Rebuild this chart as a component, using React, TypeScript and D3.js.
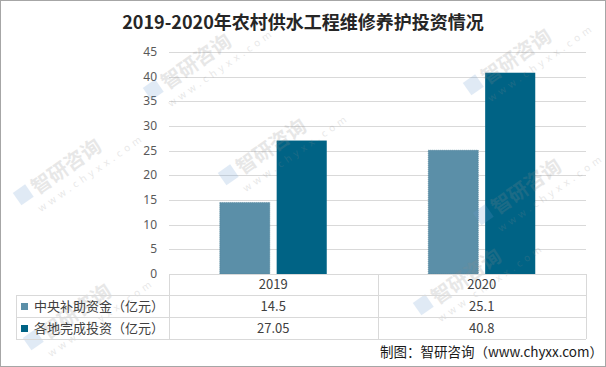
import React, { useEffect, useRef } from 'react';
import * as d3 from 'd3';

const title = '2019-2020年农村供水工程维修养护投资情况';
const years = ['2019', '2020'];
const seriesNames = ['中央补助资金（亿元）', '各地完成投资（亿元）'];
const centralFunds = [14.5, 25.1];
const localInvest = [27.05, 40.8];
const tableLabels = [['14.5', '25.1'], ['27.05', '40.8']];
const yTicks = [0, 5, 10, 15, 20, 25, 30, 35, 40, 45];
const colors = ['#5b8fa8', '#006385'];
const source = '制图：智研咨询（www.chyxx.com）';

// watermark spots (centre of each stamp)
const marks = [[200, 65], [275, 150], [520, 60], [70, 170], [470, 280], [80, 315], [530, 190]];

export default function App() {
  const ref = useRef<SVGSVGElement>(null);

  useEffect(() => {
    document.body.style.margin = '0';
    const W = 606, H = 367;
    const left = 169, right = 586, top = 52, bottom = 274;
    const svg = d3.select(ref.current);
    svg.selectAll('*').remove();

    svg.append('rect').attr('x', 0.5).attr('y', 0.5).attr('width', W - 1).attr('height', H - 1)
      .attr('fill', '#fff').attr('stroke', '#a6a6a6');

    const y = d3.scaleLinear().domain([0, 45]).range([bottom, top]);
    const x0 = d3.scaleBand().domain(years).range([left, right]);
    const x1 = d3.scaleBand().domain(['0', '1']).range([0, 107]).paddingInner(0.12);

    svg.append('text').attr('x', 303).attr('y', 29).attr('text-anchor', 'middle')
      .attr('font-family', 'Noto Sans CJK SC, sans-serif').attr('font-weight', 'bold')
      .attr('font-size', 18).attr('fill', '#262626').text(title);

    // grid
    svg.append('g').selectAll('line').data(yTicks.filter(d => d > 0)).enter().append('line')
      .attr('x1', left).attr('x2', right)
      .attr('y1', d => Math.round(y(d)) + 0.5).attr('y2', d => Math.round(y(d)) + 0.5)
      .attr('stroke', '#d9d9d9');

    svg.append('g').selectAll('text').data(yTicks).enter().append('text')
      .attr('x', 157).attr('y', d => y(d) + 4).attr('text-anchor', 'end')
      .attr('font-family', 'Noto Sans, sans-serif').attr('font-size', 12).attr('fill', '#595959')
      .text(d => d);

    // bars
    const series = [centralFunds, localInvest];
    series.forEach((vals, si) => {
      svg.append('g').selectAll('rect').data(vals).enter().append('rect')
        .attr('x', (d, i) => x0(years[i])! + (x0.bandwidth() - 107) / 2 + x1(String(si))!)
        .attr('width', x1.bandwidth())
        .attr('y', d => y(d)).attr('height', d => bottom - y(d))
        .attr('fill', colors[si])
        .attr('stroke', si === 0 ? '#4a7d96' : 'none').attr('stroke-dasharray', '1,1').attr('stroke-width', 0.6);
    });

    // watermarks
    const wm = svg.append('g').attr('pointer-events', 'none');
    marks.forEach(([cx, cy]) => {
      const g = wm.append('g').attr('transform', `translate(${cx},${cy}) rotate(-35)`).attr('opacity', 0.2);
      g.append('rect').attr('x', -60).attr('y', -14).attr('width', 15).attr('height', 15).attr('fill', '#6a9bd1');
      g.append('text').attr('x', -41).attr('y', 2).attr('font-family', 'Noto Sans CJK SC, sans-serif')
        .attr('font-weight', 'bold').attr('font-size', 20).attr('fill', '#8c8c8c').text('智研咨询');
      g.append('text').attr('x', -48).attr('y', 18).attr('font-family', 'Noto Sans, sans-serif')
        .attr('font-size', 10).attr('letter-spacing', 4).attr('fill', '#8c8c8c').text('www.chyxx.com');
    });

    // data table
    const rows = [275, 295, 317, 339];
    const tbl = svg.append('g').attr('stroke', '#d9d9d9').attr('fill', 'none');
    tbl.append('line').attr('x1', left).attr('x2', right).attr('y1', bottom + 0.5).attr('y2', bottom + 0.5);
    rows.slice(1).forEach(r => {
      tbl.append('line').attr('x1', 16).attr('x2', right).attr('y1', r + 0.5).attr('y2', r + 0.5);
    });
    [left, x0('2020')!, right].forEach(xx => {
      tbl.append('line').attr('x1', Math.round(xx) + 0.5).attr('x2', Math.round(xx) + 0.5).attr('y1', bottom).attr('y2', 339);
    });
    tbl.append('line').attr('x1', 16.5).attr('x2', 16.5).attr('y1', 295).attr('y2', 339);

    const txt = svg.append('g').attr('font-family', 'Noto Sans CJK SC, sans-serif').attr('font-size', 13).attr('fill', '#404040');
    years.forEach((yr, i) => {
      const cx = x0(yr)! + x0.bandwidth() / 2;
      txt.append('text').attr('x', cx).attr('y', 289).attr('text-anchor', 'middle').text(yr);
      tableLabels.forEach((row, ri) => {
        txt.append('text').attr('x', cx).attr('y', rows[ri + 1] + 16).attr('text-anchor', 'middle').text(row[i]);
      });
    });
    seriesNames.forEach((n, ri) => {
      svg.append('rect').attr('x', 21).attr('y', rows[ri + 1] + 8).attr('width', 7).attr('height', 7).attr('fill', colors[ri]);
      txt.append('text').attr('x', 34).attr('y', rows[ri + 1] + 16).text(n);
    });

    svg.append('text').attr('x', 603).attr('y', 357).attr('text-anchor', 'end')
      .attr('font-family', 'Noto Sans CJK SC, sans-serif').attr('font-size', 13.5).attr('fill', '#1a1a1a')
      .text(source);
  }, []);

  return <svg ref={ref} width={606} height={367} style={{ display: 'block' }} />;
}
